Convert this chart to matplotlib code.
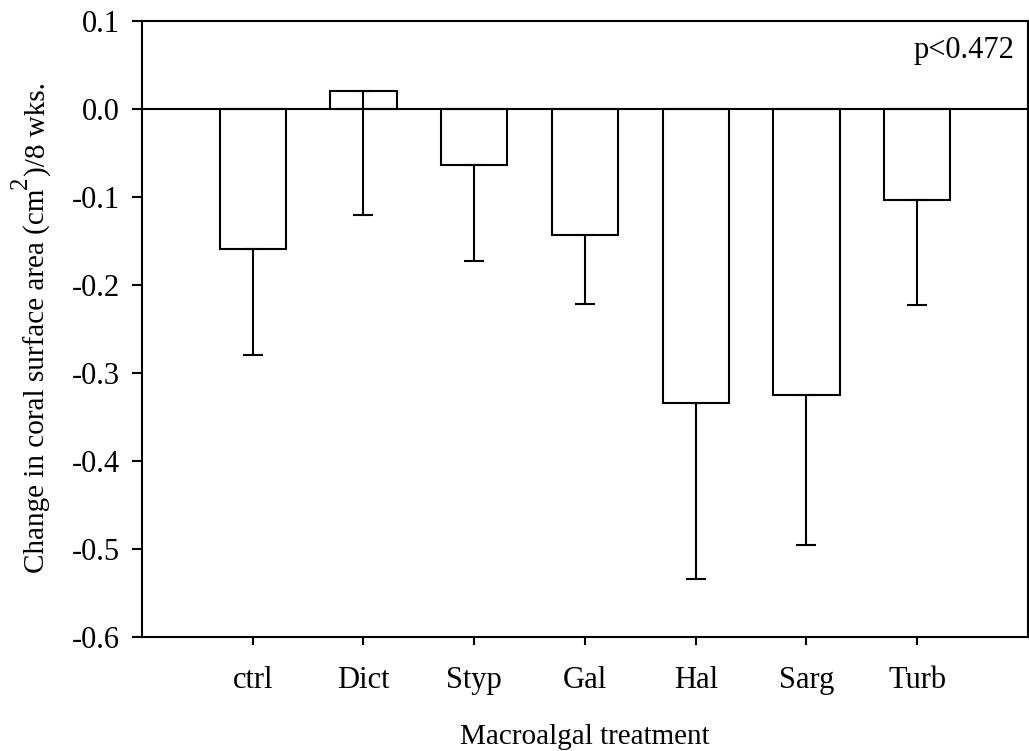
import matplotlib
matplotlib.use("Agg")
import matplotlib.pyplot as plt
import matplotlib.transforms as mtransforms
import numpy as np

plt.rcParams['font.family'] = ['Liberation Serif', 'DejaVu Serif']

# mean change per treatment and lower error (SE)
treatments = ['ctrl', 'Dict', 'Styp', 'Gal', 'Hal', 'Sarg', 'Turb']
means = [-0.159, 0.020, -0.064, -0.143, -0.334, -0.325, -0.103]
err_lo = [0.121, 0.141, 0.109, 0.079, 0.200, 0.171, 0.120]
yticks = [-0.6, -0.5, -0.4, -0.3, -0.2, -0.1, 0.0, 0.1]

fs = 22
lfs = 21

fig = plt.figure(figsize=(10.29, 7.51), dpi=100)
ax = fig.add_axes([0.138, 0.152, 0.861, 0.820])

x = np.arange(len(treatments))
ax.bar(x, means, width=0.6, color='white', edgecolor='black', linewidth=1.5, zorder=2)
ax.errorbar(x, means, yerr=[err_lo, np.zeros(len(err_lo))], fmt='none',
            ecolor='black', elinewidth=1.5, capsize=7, capthick=1.5, zorder=3)
ax.axhline(0, color='black', linewidth=1.5, zorder=4)

ax.set_xlim(-1, len(treatments))
ax.set_ylim(-0.6, 0.1)
ax.set_xticks(x)
ax.set_xticklabels(treatments)
ax.set_yticks(yticks)
ax.set_yticklabels(['%.1f' % v for v in yticks])

for s in ax.spines.values():
    s.set_linewidth(1.5)
ax.tick_params(axis='y', direction='out', length=7, width=1.5, pad=9, labelsize=fs)
ax.tick_params(axis='x', direction='out', length=6, width=1.5, pad=15, labelsize=fs)

ax.set_xlabel('Macroalgal treatment', fontsize=lfs, labelpad=21)

ax.text(0.985, 0.975, 'p<0.472', transform=ax.transAxes, ha='right', va='top', fontsize=fs)

# y label in three pieces so the superscript 2 stays big
pix = mtransforms.IdentityTransform()
kw = dict(rotation=90, rotation_mode='anchor', ha='left', va='baseline', transform=pix)
parts = [('Change in coral surface area (cm', lfs, 0),
         ('2', 18, 18),
         (')/8 wks.', lfs, 0)]
fig.canvas.draw()
renderer = fig.canvas.get_renderer()
texts = [fig.text(0, 0, s, fontsize=f, **kw) for s, f, _ in parts]
lengths = [t.get_window_extent(renderer).height for t in texts]
base_x = 45
y0 = 751 - 328 - sum(lengths) / 2
for t, (s, f, raise_px), L in zip(texts, parts, lengths):
    t.set_position((base_x - raise_px, y0))
    y0 += L

fig.savefig('out.png', dpi=100)
